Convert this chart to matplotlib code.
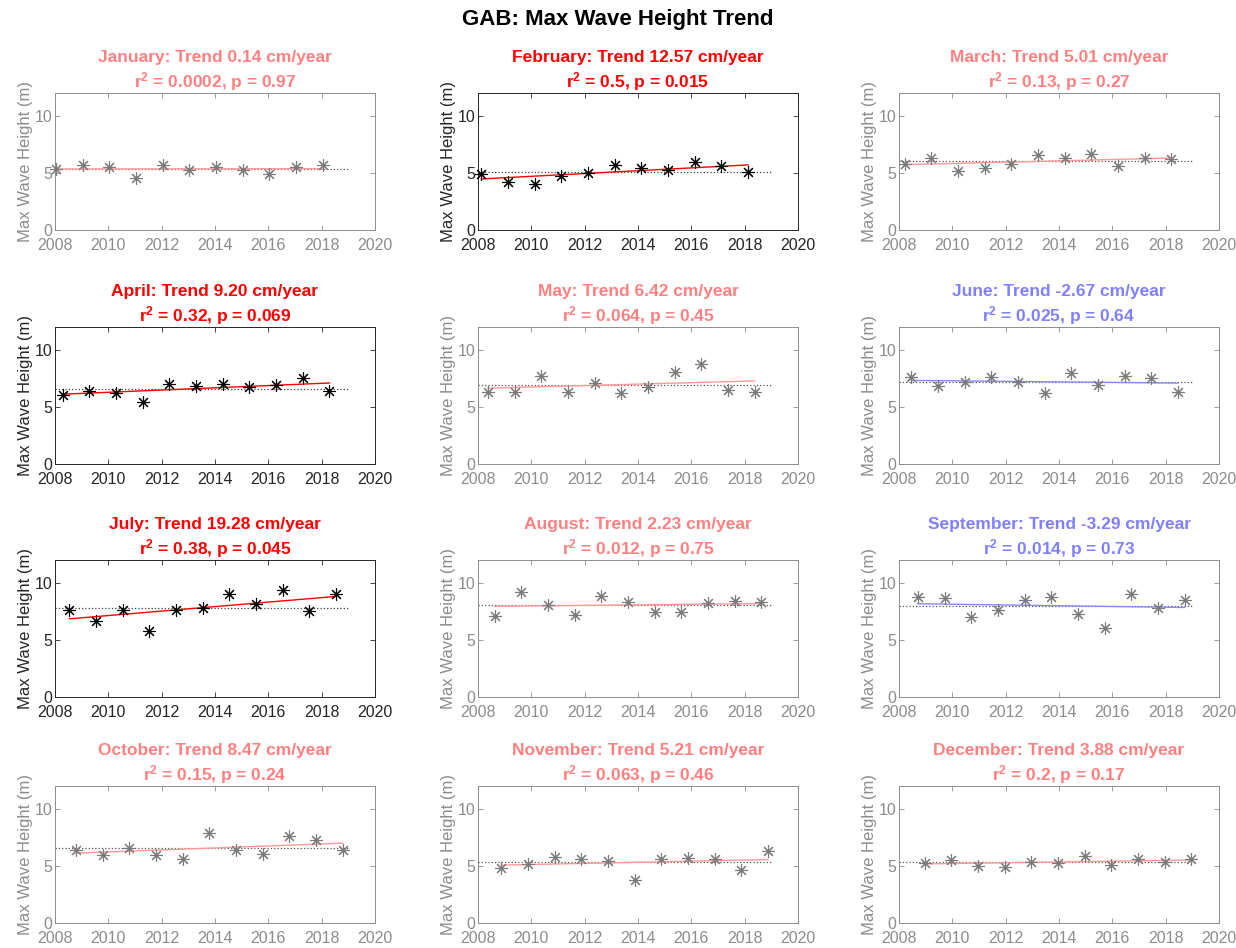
import numpy as np
import matplotlib
matplotlib.use("Agg")
import matplotlib.pyplot as plt

plt.rcParams['font.family'] = ['Liberation Sans', 'DejaVu Sans']
plt.rcParams['mathtext.fontset'] = 'custom'
plt.rcParams['mathtext.rm'] = 'Liberation Sans'
plt.rcParams['mathtext.bf'] = 'Liberation Sans:bold'
plt.rcParams['mathtext.it'] = 'Liberation Sans:italic'

years = list(range(2008, 2019))
months = ["January", "February", "March", "April", "May", "June",
          "July", "August", "September", "October", "November", "December"]

jan = [5.38, 5.67, 5.50, 4.59, 5.67, 5.26, 5.50, 5.26, 4.88, 5.56, 5.67]
feb = [4.94, 4.21, 4.06, 4.74, 4.97, 5.67, 5.47, 5.23, 5.96, 5.61, 5.09]
mar = [5.76, 6.29, 5.18, 5.47, 5.76, 6.58, 6.35, 6.64, 5.61, 6.29, 6.20]
apr = [6.08, 6.43, 6.23, 5.47, 7.02, 6.81, 6.99, 6.73, 6.93, 7.54, 6.43]
may = [6.35, 6.35, 7.69, 6.35, 7.11, 6.23, 6.78, 8.04, 8.77, 6.52, 6.35]
jun = [7.60, 6.87, 7.22, 7.60, 7.22, 6.23, 7.95, 6.93, 7.75, 7.54, 6.35]
jul = [7.65, 6.63, 7.62, 5.81, 7.62, 7.77, 9.03, 8.12, 9.33, 7.51, 9.03]
aug = [7.13, 9.24, 8.06, 7.18, 8.83, 8.36, 7.42, 7.42, 8.24, 8.45, 8.36]
sep = [8.80, 8.65, 7.04, 7.65, 8.53, 8.80, 7.27, 6.01, 9.03, 7.77, 8.50]
oct_ = [6.40, 5.96, 6.55, 5.96, 5.60, 7.88, 6.40, 6.05, 7.64, 7.29, 6.40]
nov = [4.78, 5.16, 5.81, 5.58, 5.46, 3.81, 5.58, 5.72, 5.58, 4.63, 6.34]
dec = [5.28, 5.52, 4.99, 4.87, 5.34, 5.28, 5.90, 5.07, 5.60, 5.37, 5.60]
heights = [jan, feb, mar, apr, may, jun, jul, aug, sep, oct_, nov, dec]

trend_cm = [0.14, 12.57, 5.01, 9.20, 6.42, -2.67, 19.28, 2.23, -3.29, 8.47, 5.21, 3.88]
r2_text = ["0.0002", "0.5", "0.13", "0.32", "0.064", "0.025",
           "0.38", "0.012", "0.014", "0.15", "0.063", "0.2"]
p_vals = [0.97, 0.015, 0.27, 0.069, 0.45, 0.64, 0.045, 0.75, 0.73, 0.24, 0.46, 0.17]

fig = plt.figure(figsize=(12.36, 9.48), dpi=100)
W, H = 1236.0, 948.0
col_left = [55, 478, 899]
row_top = [93, 327, 560, 786]
aw, ah = 320, 137

fig.text(0.5, 1 - 20 / H, "GAB: Max Wave Height Trend", ha='center', va='center',
         fontsize=16, fontweight='bold', color='black')

for i, m in enumerate(months):
    r, c = divmod(i, 3)
    ax = fig.add_axes([col_left[c] / W, 1 - (row_top[r] + ah) / H, aw / W, ah / H])
    sig = p_vals[i] < 0.1
    x = np.array(years) + (i + 0.5) / 12.0
    y = np.array(heights[i])
    if sig:
        tcol = '#ff0000'
        lcol = '#ff0000'
        axcol = '#262626'
        mcol = 'black'
    else:
        tcol = '#ff8080' if trend_cm[i] > 0 else '#8080ff'
        lcol = '#ff9999' if trend_cm[i] > 0 else '#8888ff'
        axcol = '#8c8c8c'
        mcol = '#7a7a7a'
    # mean line
    ax.plot([years[0], years[-1] + 1], [y.mean(), y.mean()], ':', color='#404040' if sig else '#555555',
            lw=0.9, zorder=1)
    # trend line
    k, b = np.polyfit(x, y, 1)
    ax.plot([x[0], x[-1]], [k * x[0] + b, k * x[-1] + b], '-', color=lcol, lw=1.0, zorder=2)
    ax.plot(x, y, linestyle='none', marker=(8, 2, 0), markersize=9, markeredgewidth=0.8,
            color=mcol, zorder=3, clip_on=False)
    ax.set_xlim(2008, 2020)
    ax.set_ylim(0, 12)
    ax.set_xticks(range(2008, 2021, 2))
    ax.set_yticks([0, 5, 10])
    ax.tick_params(direction='in', length=3.5, width=0.6, top=True, right=True,
                   colors=axcol, labelsize=11.5, pad=2)
    ax.tick_params(axis='x', pad=5.5)
    for s in ax.spines.values():
        s.set_color(axcol)
        s.set_linewidth(0.7)
    ax.set_ylabel("Max Wave Height (m)", fontsize=12, color=axcol, labelpad=1)
    ax.set_title("%s: Trend %.2f cm/year\n" % (m, trend_cm[i]) +
                 r"r$^{\mathbf{2}}$" + " = %s, p = %s" % (r2_text[i], ('%g' % p_vals[i])),
                 fontsize=12.5, fontweight='bold', color=tcol, pad=4, linespacing=1.3)

fig.savefig("out.png", dpi=100)
